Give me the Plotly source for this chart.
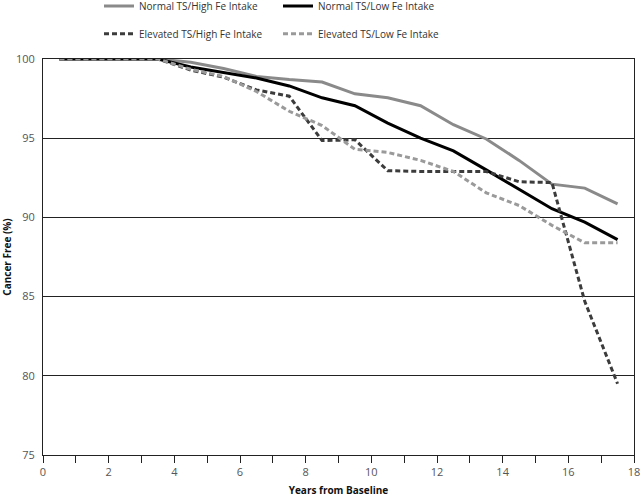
import plotly.graph_objects as go

years = [0.5, 3.5, 4.5, 5.5, 6.5, 7.5, 8.5, 9.5, 10.5, 11.5, 12.5, 13.5, 14.5, 15.5, 16.5, 17.5]
normal_high = [100, 100, 99.8, 99.4, 98.9, 98.7, 98.55, 97.8, 97.55, 97.05, 95.85, 94.95, 93.6, 92.1, 91.85, 90.85]
normal_low = [100, 100, 99.5, 99.15, 98.8, 98.3, 97.55, 97.05, 95.95, 95.0, 94.2, 93.0, 91.75, 90.55, 89.7, 88.6]
elev_high = [100, 100, 99.3, 98.85, 98.05, 97.65, 94.85, 94.9, 92.95, 92.9, 92.9, 92.9, 92.25, 92.2, 84.7, 79.5]
elev_low = [100, 100, 99.35, 98.9, 97.95, 96.7, 95.8, 94.3, 94.1, 93.6, 92.9, 91.55, 90.75, 89.5, 88.4, 88.4]

names = ["Normal TS/High Fe Intake", "Normal TS/Low Fe Intake",
         "Elevated TS/High Fe Intake", "Elevated TS/Low Fe Intake"]

x_tickvals = list(range(0, 19))
x_ticktext = [str(v) if v % 2 == 0 else "" for v in x_tickvals]
y_tickvals = [75, 80, 85, 90, 95, 100]

font_family = "Open Sans, Noto Sans, DejaVu Sans, sans-serif"

fig = go.Figure()
fig.add_trace(go.Scatter(x=years, y=normal_high, mode="lines", name=names[0],
                         line=dict(color="#8a8a8a", width=3), legend="legend"))
fig.add_trace(go.Scatter(x=years, y=normal_low, mode="lines", name=names[1],
                         line=dict(color="#000000", width=3), legend="legend"))
fig.add_trace(go.Scatter(x=years, y=elev_high, mode="lines", name=names[2],
                         line=dict(color="#3c3c3c", width=3, dash="5px,3px"), legend="legend2"))
fig.add_trace(go.Scatter(x=years, y=elev_low, mode="lines", name=names[3],
                         line=dict(color="#9a9a9a", width=3, dash="5px,3px"), legend="legend2"))

legend_common = dict(orientation="h", xanchor="left", yanchor="middle",
                     font=dict(family=font_family, size=10, color="#333333"),
                     entrywidth=134, itemwidth=30, bgcolor="rgba(0,0,0,0)",
                     xref="container", yref="container", tracegroupgap=0)

fig.update_layout(
    width=650, height=497,
    margin=dict(l=43, r=16, t=59, b=42, autoexpand=False),
    paper_bgcolor="white", plot_bgcolor="white",
    font=dict(family=font_family, size=11, color="#333333"),
    legend=dict(x=99 / 650, y=0.988, **legend_common),
    legend2=dict(x=99 / 650, y=0.932, **legend_common),
    xaxis=dict(range=[0, 18], tickvals=x_tickvals, ticktext=x_ticktext,
               ticks="outside", ticklen=7, tickcolor="#222", tickwidth=1,
               showline=True, linecolor="#222", linewidth=1, mirror=True,
               showgrid=False, zeroline=False, automargin=False,
               ticklabeloverflow="allow",
               title=dict(text="<b>Years from Baseline</b>",
                          font=dict(size=10, color="#111"), standoff=8),
               tickfont=dict(size=11, color="#555")),
    yaxis=dict(range=[75, 100], tickvals=y_tickvals,
               showline=True, linecolor="#222", linewidth=1, mirror=True,
               showgrid=True, gridcolor="#222", gridwidth=1, zeroline=False,
               ticks="", ticklabelstandoff=5, automargin=False,
               title=dict(text="<b>Cancer Free (%)</b>",
                          font=dict(size=10, color="#111"), standoff=8),
               tickfont=dict(size=11, color="#555")),
)

fig.write_html("out.html", config={"displayModeBar": False},
               post_script="document.body.style.margin='0px';document.body.style.overflow='hidden';")
